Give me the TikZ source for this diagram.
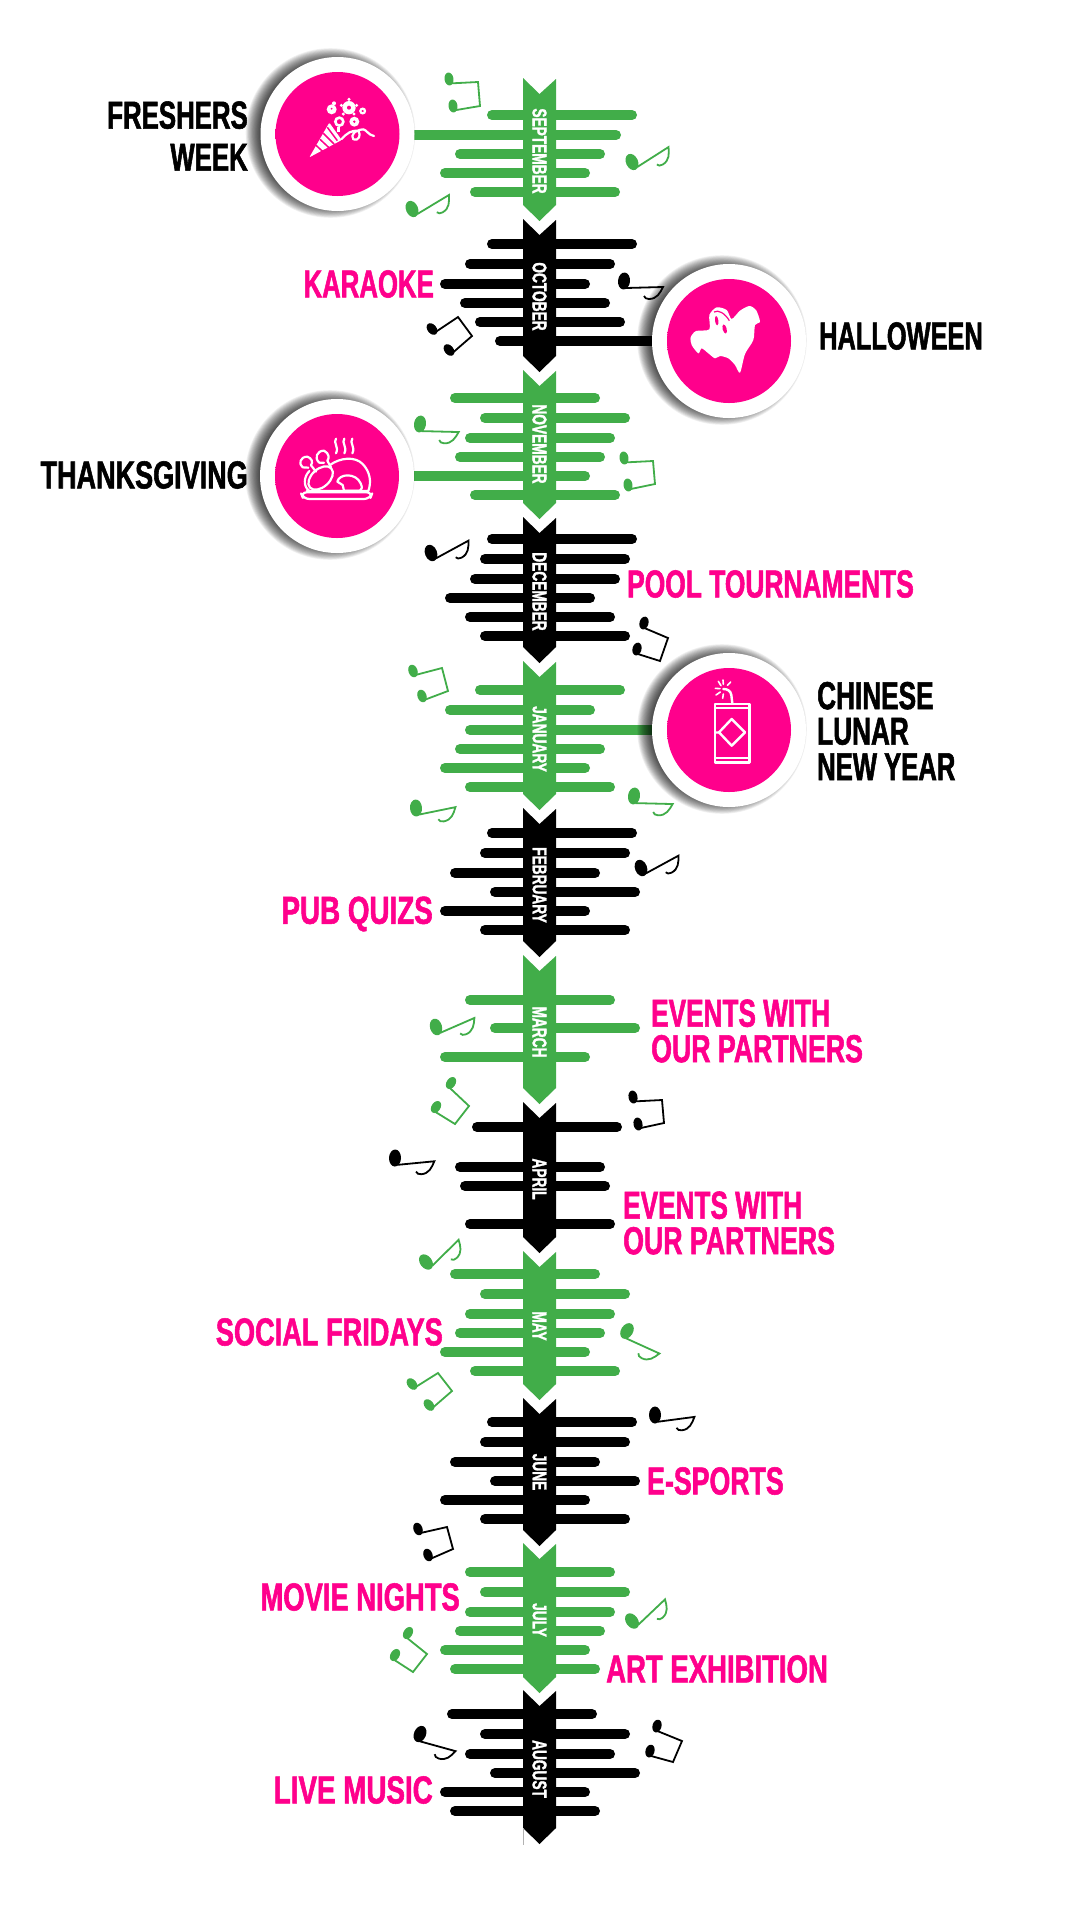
\documentclass[tikz,border=0pt]{standalone}
\usepackage{graphicx}
\usepackage{fontspec}
\setmainfont[FakeStretch=0.685,BoldFeatures={FakeBold=1.4}]{Liberation Sans}
\definecolor{gr}{HTML}{41AD49}
\definecolor{pk}{HTML}{FF008C}
\pgfdeclareradialshading{pinkball}{\pgfpoint{-3bp}{3bp}}{color(0bp)=(pk); color(40bp)=(pk); color(46bp)=(pk!88!black); color(50bp)=(pk!60!black)}
\newcommand{\narrowed}[2]{\scalebox{#1}[1]{#2}}
\tikzset{
  barline/.style={line width=10pt,line cap=round},
  monthtext/.style={text=white,font=\bfseries\fontsize{20}{20}\selectfont,rotate=-90,inner sep=0pt},
  bigblack/.style={text=black,font=\bfseries\fontsize{39}{42}\selectfont,inner sep=0pt},
  bigpink/.style={text=pk,font=\bfseries\fontsize{39}{35.5}\selectfont,inner sep=0pt},
  iconline/.style={draw=white,line width=2.2pt,line cap=round,line join=round},
  noteline/.style={line width=1.8pt,line join=miter}
}
% month: name, colour, top, tip, label y, bars y/x
\newcommand{\monthseg}[6]{%
  \foreach \yy/\xx in {#6} {\draw[barline,#2] (\xx+5,\yy) -- (\xx+145,\yy);}
  \fill[#2] (523,#3) -- (539.5,#3+16) -- (556,#3+1) -- (556,#4-16) -- (539.5,#4) -- (523,#4-16) -- cycle;
  \node[monthtext] (m#1) at (539.5,#5) {#1};
}
% single note: colour, x, y, rotation
\newcommand{\snote}[4]{%
  \begin{scope}[shift={(#2,#3)},rotate=#4]
    \fill[#1,rotate=-6] (0,0) ellipse (6 and 8.5);
    \draw[#1,noteline] (2,7) -- (39,6) .. controls (36,12) and (33,18) .. (25,18) .. controls (22,18) and (21,17) .. (20,15);
  \end{scope}}
% beamed notes: colour, head 1, corner A, corner B, head 2
\newcommand{\bnote}[9]{%
  \pgfmathsetmacro\ua{#8-#2}\pgfmathsetmacro\ub{#9-#3}
  \pgfmathsetmacro\ul{veclen(\ua,\ub)}
  \pgfmathsetmacro\ang{atan2(\ua,\ub)}
  \pgfmathsetmacro\sx{4.5*\ua/\ul}\pgfmathsetmacro\sy{4.5*\ub/\ul}
  \fill[#1,rotate around={\ang:(#2,#3)}] (#2,#3) ellipse (4.5 and 6.5);
  \fill[#1,rotate around={\ang:(#8,#9)}] (#8,#9) ellipse (4.5 and 6.5);
  \draw[#1,noteline] (#2+\sx,#3+\sy) -- (#4,#5) -- (#6,#7) -- (#8+\sx,#9+\sy);
}
% round badge: x, y
\newcommand{\badgeshadow}[2]{%
  \foreach \rr in {68,68.8,...,85} {\fill[black,opacity=0.06] (#1-7,#2-1) circle (\rr);}
}
\newcommand{\badge}[3]{%
  \badgeshadow{#2}{#3}
  \fill[white] (#2,#3) circle (77);
  \shade[shading=pinkball] (#2,#3) circle (62);
  \coordinate (#1) at (#2,#3);
}
\begin{document}
\begin{tikzpicture}[x=1pt,y=-1pt]
\useasboundingbox (0,0) rectangle (1080,1920);
\fill[white] (0,0) rectangle (1080,1920);

% connecting bars
\draw[barline,gr,line cap=butt] (337,135) -- (540,135);
\draw[barline,black,line cap=butt] (540,341) -- (729,341);
\draw[barline,gr,line cap=butt] (337,476) -- (540,476);
\draw[barline,gr,line cap=butt] (540,730) -- (729,730);

\monthseg{SEPTEMBER}{gr}{78}{221}{151}{115/487,135/471,154/455,173/440,192/470}
\monthseg{OCTOBER}{black}{219}{372}{296.5}{244/487,264/465,284/440,303/460,322/475,341/495}
\monthseg{NOVEMBER}{gr}{370}{519}{444}{398/450,418/480,438/465,457/455,476/440,495/470}
\monthseg{DECEMBER}{black}{517}{663}{591.5}{539/487,559/480,579/470,598/445,617/465,636/480}
\monthseg{JANUARY}{gr}{661}{810}{739}{690/475,710/445,730/465,749/455,768/440,787/465}
\monthseg{FEBRUARY}{black}{808}{957}{885}{833/487,853/480,873/450,892/490,911/440,930/480}
\monthseg{MARCH}{gr}{955}{1104}{1032}{1000/465,1028/490,1057/440}
\monthseg{APRIL}{black}{1102}{1253}{1179}{1127/472,1167/455,1186/460,1224/465}
\monthseg{MAY}{gr}{1251}{1400}{1326}{1274/450,1294/480,1314/465,1333/455,1352/440,1371/470}
\monthseg{JUNE}{black}{1398}{1546}{1472}{1422/487,1442/480,1462/450,1481/490,1500/440,1519/480}
\monthseg{JULY}{gr}{1543}{1693}{1620}{1572/465,1592/480,1612/465,1631/455,1650/440,1669/450}
\monthseg{AUGUST}{black}{1690}{1844}{1769}{1714/447,1734/480,1754/465,1773/490,1792/440,1811/450}
\draw[gray!60,line width=0.6pt] (523,1828) -- (523,1845);

% notes
\bnote{gr}{449}{79}{478}{82}{480}{106}{453}{106}
\snote{gr}{412}{209}{29.5}
\snote{gr}{632}{162}{31}
\snote{black}{624}{281}{0}
\bnote{black}{432}{329}{458}{317}{472}{336}{449}{350}
\snote{gr}{420}{424}{-3}
\bnote{gr}{624}{458}{653}{461}{655}{484}{628}{485}
\snote{black}{431}{553}{27}
\bnote{black}{644}{623}{668}{638}{660}{661}{637}{649}
\bnote{gr}{413}{671}{442}{668}{448}{691}{422}{696}
\snote{gr}{416}{808}{10}
\snote{gr}{634}{796}{-3}
\snote{black}{641}{868}{27}
\snote{gr}{436}{1027}{22}
\bnote{gr}{451}{1083}{469}{1106}{455}{1124}{436}{1107}
\bnote{black}{633}{1097}{662}{1100}{664}{1123}{638}{1124}
\snote{black}{395}{1158}{4}
\snote{gr}{426}{1262}{43}
\snote{gr}{627}{1331}{-26}
\bnote{gr}{412}{1384}{438}{1373}{452}{1391}{429}{1405}
\snote{black}{655}{1415}{6}
\bnote{black}{418}{1529}{447}{1527}{453}{1549}{428}{1555}
\snote{gr}{632}{1621}{42}
\bnote{gr}{408}{1633}{427}{1654}{413}{1672}{395}{1655}
\snote{black}{420}{1734}{-17}
\bnote{black}{657}{1726}{682}{1741}{673}{1762}{650}{1751}

% badges
\badge{bA}{337.5}{134}
\badge{bB}{729}{341}
\badge{bC}{337}{476}
\badge{bD}{729}{730}

% party popper
\begin{scope}[shift={(240,40)},scale=1/3]
  \fill[white,rounded corners=1pt] (208,352) -- (268,248) -- (305,300) -- cycle;
  \foreach \aa/\ab/\ba/\bb in {262/262/292/302, 250/280/282/312, 240/298/270/326, 228/316/250/336}
    {\draw[pk,line width=1.5pt] (\aa,\ab) -- (\ba,\bb);}
  \draw[iconline] (305,297) .. controls (320,280) and (335,270) .. (355,272) .. controls (365,285) and (355,305) .. (340,298) .. controls (330,285) and (345,270) .. (370,268) .. controls (380,270) and (385,285) .. (402,288);
  \fill[white] (327,203) circle (20);
  \fill[white] (327,178) circle (5); \fill[white] (350,196) circle (5); \fill[white] (342,222) circle (5); \fill[white] (310,222) circle (5); \fill[white] (304,196) circle (5);
  \fill[pk] (327,203) circle (6);
  \draw[white,line width=2.6pt] (298,245) circle (12);
  \draw[white,line width=2.6pt] (295,262) -- (295,277);
  \fill[white] (343,245) circle (15); \fill[pk] (343,245) circle (4);
  \draw[white,line width=2.2pt] (368,213) circle (7);
  \fill[white] (275,208) circle (15); \fill[pk] (275,206) circle (3); \fill[white] (282,190) circle (6);
\end{scope}

% ghost
\begin{scope}[shift={(620,250)},scale=1/3]
  \fill[white] plot[smooth cycle,tension=0.45] coordinates {(212,262) (228,243) (268,238) (268,195) (290,172) (320,180) (335,207) (360,182) (388,168) (408,180) (420,215) (405,225) (400,270) (375,312) (360,368) (345,345) (325,325) (300,318) (285,325) (265,310) (245,295) (235,310) (215,285)};
  \fill[pk,rotate around={8:(290,212)}] (290,212) ellipse (5 and 14);
  \fill[pk,rotate around={15:(314,237)}] (314,237) ellipse (6 and 14);
  \draw[pk,line width=1.2pt] (282,186) .. controls (295,178) and (315,190) .. (328,212);
\end{scope}

% turkey
\begin{scope}[shift={(250,390)},scale=1/3]
  \draw[iconline,rounded corners=6pt] (152,307) -- (368,307) -- (360,327) -- (160,327) -- cycle;
  \draw[iconline] (240,225) .. controls (270,203) and (315,198) .. (338,222) .. controls (360,245) and (365,275) .. (355,303) -- (170,303);
  \draw[iconline] (178,243) .. controls (160,262) and (160,290) .. (178,303);
  \draw[iconline,rotate around={42:(212,264)}] (212,264) ellipse (43 and 27);
  \draw[iconline] (175,233) -- (158,232) .. controls (145,222) and (150,200) .. (172,200) .. controls (185,205) and (190,215) .. (183,226) -- (198,245);
  \draw[iconline] (222,218) -- (208,218) .. controls (192,205) and (200,182) .. (222,182) .. controls (238,190) and (238,205) .. (232,212) -- (243,232);
  \draw[iconline] (262,275) .. controls (268,250) and (318,248) .. (332,280) .. controls (338,292) and (335,300) .. (330,302) -- (282,302) -- (278,285) -- (262,275);
  \foreach \st in {258,283,307}
    {\draw[iconline] (\st,146) .. controls (\st-10,158) and (\st+10,170) .. (\st,190);}
\end{scope}

% firecracker
\begin{scope}[shift={(640,640)},scale=1/3]
  \draw[iconline,line width=2.4pt] (225,192) rectangle (328,367);
  \draw[iconline] (226,205) -- (327,205);
  \draw[iconline] (226,353) -- (327,353);
  \draw[iconline,line width=2.4pt] (275,237) -- (315,277) -- (275,317) -- (237,277) -- cycle;
  \draw[iconline] (226,278) -- (237,277);
  \draw[iconline,line width=2.4pt] (277,190) -- (274,165) .. controls (272,152) and (262,147) .. (250,147);
  \foreach \ca/\cb/\da/\db in {235/124/243/137, 249/120/250/133, 272/126/262/136, 226/145/240/146, 228/165/241/156, 248/175/250/162}
    {\draw[iconline,line width=1.6pt] (\ca,\cb) -- (\da,\db);}
\end{scope}

% labels
\node[bigblack,anchor=east,align=right] (lFresh) at (248,136) {\narrowed{.966}{FRESHERS}\\\narrowed{.966}{WEEK}};
\node[bigpink,anchor=east] (lKara) at (434,284) {\narrowed{.964}{KARAOKE}};
\node[bigblack,anchor=west] (lHall) at (819,336) {\narrowed{.95}{HALLOWEEN}};
\node[bigblack,anchor=east] (lThanks) at (248,475) {\narrowed{1.012}{THANKSGIVING}};
\node[bigpink,anchor=west] (lPool) at (627,584) {\narrowed{.987}{POOL TOURNAMENTS}};
\node[bigblack,anchor=west,align=left,font=\bfseries\fontsize{39}{35.5}\selectfont] (lLunar) at (817,731) {\narrowed{.98}{CHINESE}\\\narrowed{.98}{LUNAR}\\\narrowed{.96}{NEW YEAR}};
\node[bigpink,anchor=east] (lPub) at (433,914) {\narrowed{1.04}{PUB QUIZS}};
\node[bigpink,anchor=west,align=left] (lEvA) at (651,1031) {\narrowed{.98}{EVENTS WITH}\\OUR PARTNERS};
\node[bigpink,anchor=west,align=left] (lEvB) at (623,1223) {\narrowed{.98}{EVENTS WITH}\\OUR PARTNERS};
\node[bigpink,anchor=east] (lSocial) at (443,1332) {\narrowed{1.017}{SOCIAL FRIDAYS}};
\node[bigpink,anchor=west] (lEs) at (647,1481) {E-SPORTS};
\node[bigpink,anchor=east] (lMovie) at (460,1597) {\narrowed{1.025}{MOVIE NIGHTS}};
\node[bigpink,anchor=west] (lArt) at (606,1669) {\narrowed{1.03}{ART EXHIBITION}};
\node[bigpink,anchor=east] (lLive) at (433,1790) {\narrowed{1.04}{LIVE MUSIC}};
\end{tikzpicture}
\end{document}
